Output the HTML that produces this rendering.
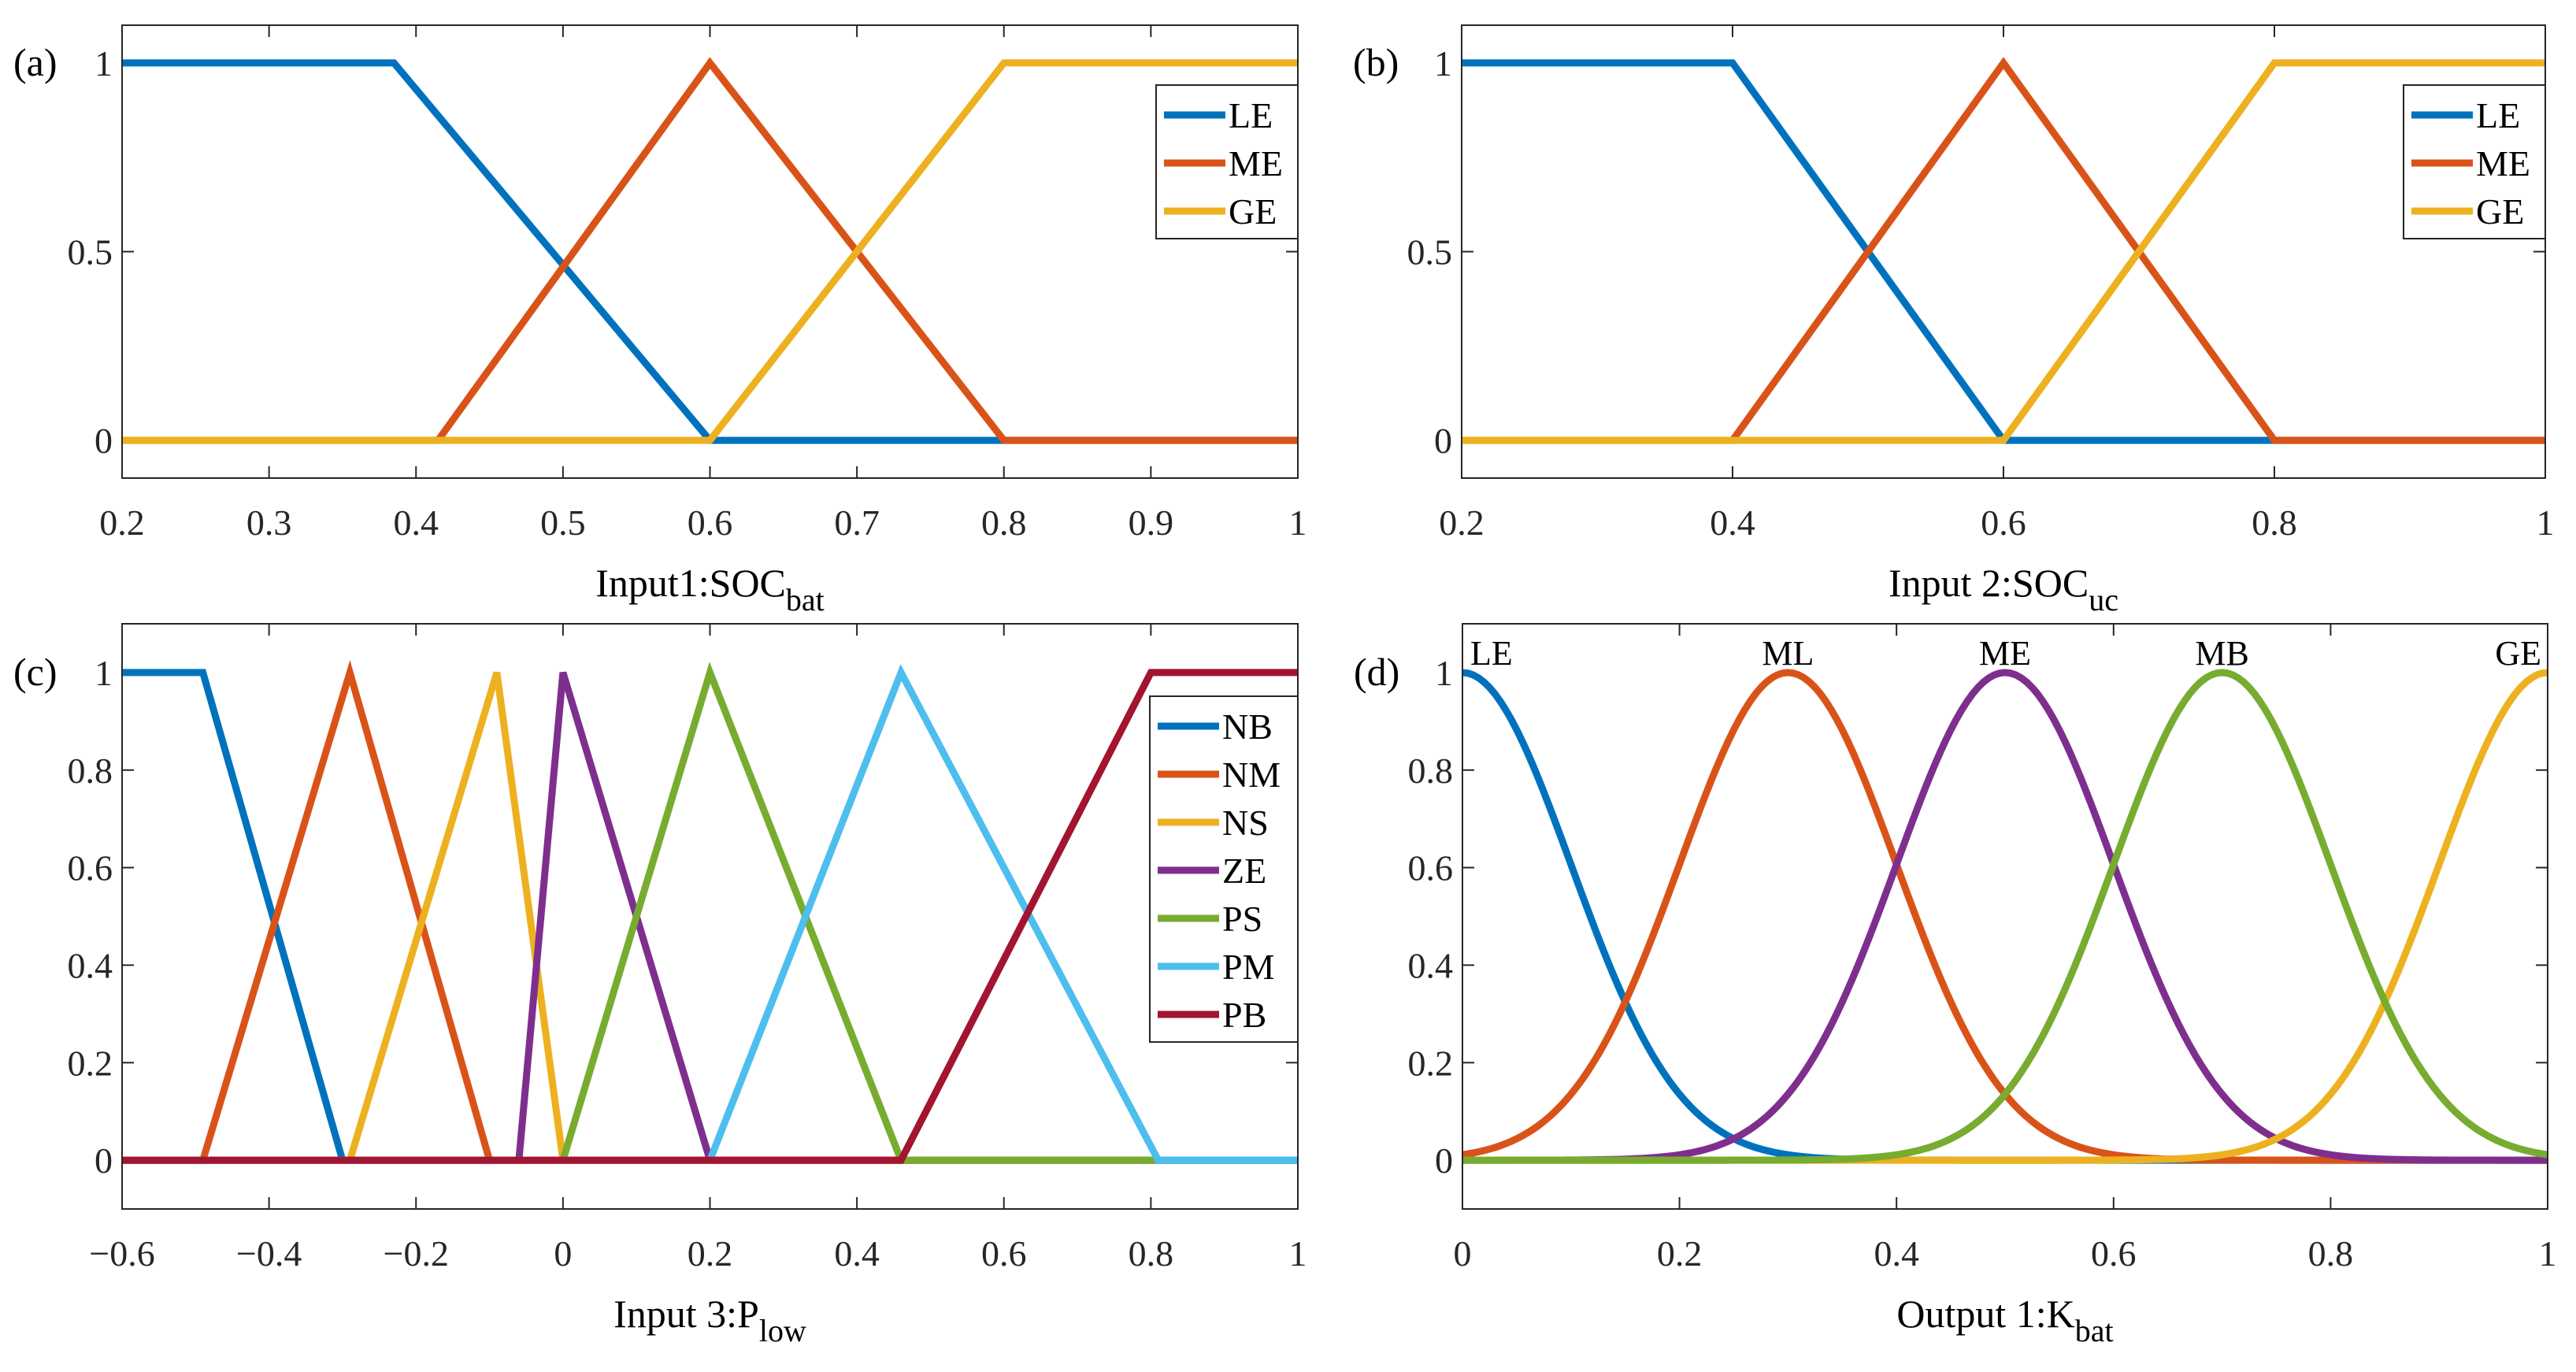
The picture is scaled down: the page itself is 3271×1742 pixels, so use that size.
<!DOCTYPE html>
<html><head><meta charset="utf-8"><style>
html,body{margin:0;padding:0;background:#fff;}
svg{display:block;font-family:"Liberation Serif",serif;}
</style></head><body>
<svg id="c" width="3271" height="1742" viewBox="0 0 3271 1742"></svg>
<script>
const NS="http://www.w3.org/2000/svg";
const svg=document.getElementById('c');
// Panel data
const aNames=["LE","ME","GE"];
const aX=[[0.2,0.385,0.6,1],[0.2,0.415,0.6,0.8,1],[0.2,0.6,0.8,1]];
const aY=[[1,1,0,0],[0,0,1,0,0],[0,0,1,1]];
const bNames=["LE","ME","GE"];
const bX=[[0.2,0.4,0.6,1],[0.2,0.4,0.6,0.8,1],[0.2,0.6,0.8,1]];
const bY=[[1,1,0,0],[0,0,1,0,0],[0,0,1,1]];
const cNames=["NB","NM","NS","ZE","PS","PM","PB"];
const cX=[[-0.6,-0.49,-0.3,1],[-0.6,-0.49,-0.29,-0.1,1],[-0.6,-0.29,-0.09,0,1],[-0.6,-0.06,0,0.2,1],[-0.6,0,0.2,0.46,1],[-0.6,0.2,0.46,0.81,1],[-0.6,0.46,0.8,1]];
const cY=[[1,1,0,0],[0,0,1,0,0],[0,0,1,0,0],[0,0,1,0,0],[0,0,1,0,0],[0,0,1,0,0],[0,0,1,1]];
const dNames=["LE","ML","ME","MB","GE"];
const dCenters=[0,0.3,0.5,0.7,1];
const dSigmas=[0.1,0.1,0.1,0.1,0.1];
const dDrawOrder=[0,1,2,4,3];
const colors3=["#0072BD","#D95319","#EDB120"];
const colors7=["#0072BD","#D95319","#EDB120","#7E2F8E","#77AC30","#4DBEEE","#A2142F"];
const colorsD=["#0072BD","#D95319","#7E2F8E","#77AC30","#EDB120"];

function el(tag,attrs,parent){const e=document.createElementNS(NS,tag);for(const k in attrs)e.setAttribute(k,attrs[k]);(parent||svg).appendChild(e);return e;}

function panel(o){
  const g=el('g',{});
  
  
  const sx=v=>o.L+(v-o.xmin)/(o.xmax-o.xmin)*(o.R-o.L);
  const sy=v=>o.B-(v-(-0.1))/(1.2)*(o.B-o.T);
  o.xt.forEach((t,i)=>{
    const x=sx(t);
    el('line',{x1:x,y1:o.B,x2:x,y2:o.B-15,stroke:'#262626','stroke-width':2},g);
    el('line',{x1:x,y1:o.T,x2:x,y2:o.T+15,stroke:'#262626','stroke-width':2},g);
    const tx=el('text',{x:x,y:o.B+72,'font-size':46,'text-anchor':'middle',fill:'#262626'},g);
    tx.textContent=o.xl[i];
    
    
  });
  o.yt.forEach((t,i)=>{
    const y=sy(t);
    el('line',{x1:o.L,y1:y,x2:o.L+15,y2:y,stroke:'#262626','stroke-width':2},g);
    el('line',{x1:o.R,y1:y,x2:o.R-15,y2:y,stroke:'#262626','stroke-width':2},g);
    const tx=el('text',{x:o.L-12,y:y+16,'font-size':46,'text-anchor':'end',fill:'#262626'},g);
    tx.textContent=o.yl[i];
    
    
  });
  const order=o.order||o.series.map((s,i)=>i);
  order.forEach(i=>{
    const s=o.series[i];
    const p=el('polyline',{points:s.xs.map((x,j)=>sx(x)+','+sy(s.ys[j])).join(' '),fill:'none',stroke:s.color,'stroke-width':9,'stroke-linejoin':'miter'},g);
    
    
  });
  el('rect',{x:o.L,y:o.T,width:o.R-o.L,height:o.B-o.T,fill:'none',stroke:'#262626','stroke-width':2},g);
  const pl=el('text',{x:o.L-138,y:sy(1)+16,'font-size':50,fill:'#000'},g);
  pl.textContent=o.letter;
  
  
  const xl=el('text',{x:(o.L+o.R)/2,y:o.B+150,'font-size':50,'text-anchor':'middle',fill:'#000'},g);
  
  
  const t1=el('tspan',{},xl);t1.textContent=o.xlab;
  const t2=el('tspan',{dy:18,'font-size':40},xl);t2.textContent=o.xsub;
  if(o.legend){
    const lg=el('g',{},g);
    
    
    const lx=o.legend.x,ly=o.legend.y,lw=o.legend.w,rowH=61;
    const h=o.series.length*rowH+12;
    el('rect',{x:lx,y:ly,width:lw,height:h,fill:'#fff',stroke:'#262626','stroke-width':2},lg);
    o.series.forEach((s,i)=>{
      const yy=ly+38+i*rowH;
      const e=el('g',{},lg);
      
      
      el('line',{x1:lx+10,y1:yy,x2:lx+88,y2:yy,stroke:s.color,'stroke-width':9},e);
      const t=el('text',{x:lx+92,y:yy+16,'font-size':46,fill:'#000'},e);t.textContent=s.name;
    });
  }
  if(o.peakLabels){
    o.series.forEach((s,i)=>{
      const c=dCenters[i];
      let anchor='middle',x=sx(c);
      if(i===0){anchor='start';x=sx(c)+10;}
      if(i===o.series.length-1){anchor='end';x=sx(c)-8;}
      const t=el('text',{x:x,y:o.T+52,'font-size':44,'text-anchor':anchor,fill:'#000'},g);
      t.textContent=s.name;
      
      
    });
  }
}
const mk=(names,X,Y,cols)=>names.map((n,i)=>({name:n,xs:X[i],ys:Y[i],color:cols[i]}));
panel({name:'panel-a',letter:'(a)',L:155,R:1648,T:32,B:607,xmin:0.2,xmax:1,
  xt:[0.2,0.3,0.4,0.5,0.6,0.7,0.8,0.9,1],xl:['0.2','0.3','0.4','0.5','0.6','0.7','0.8','0.9','1'],
  yt:[0,0.5,1],yl:['0','0.5','1'],series:mk(aNames,aX,aY,colors3),xlab:'Input1:SOC',xsub:'bat',
  legend:{x:1468,y:108,w:180}});
panel({name:'panel-b',letter:'(b)',L:1856,R:3232,T:32,B:607,xmin:0.2,xmax:1,
  xt:[0.2,0.4,0.6,0.8,1],xl:['0.2','0.4','0.6','0.8','1'],
  yt:[0,0.5,1],yl:['0','0.5','1'],series:mk(bNames,bX,bY,colors3),xlab:'Input 2:SOC',xsub:'uc',
  legend:{x:3052,y:108,w:180}});
panel({name:'panel-c',letter:'(c)',L:155,R:1648,T:792,B:1535,xmin:-0.6,xmax:1,
  xt:[-0.6,-0.4,-0.2,0,0.2,0.4,0.6,0.8,1],xl:['\u22120.6','\u22120.4','\u22120.2','0','0.2','0.4','0.6','0.8','1'],
  yt:[0,0.2,0.4,0.6,0.8,1],yl:['0','0.2','0.4','0.6','0.8','1'],series:mk(cNames,cX,cY,colors7),xlab:'Input 3:P',xsub:'low',
  legend:{x:1460,y:884,w:188}});
const dX=[],dY=[];
for(let i=0;i<dNames.length;i++){const xs=[],ys=[];for(let k=0;k<=200;k++){const x=k/200;xs.push(x);ys.push(Math.exp(-Math.pow(x-dCenters[i],2)/(2*dSigmas[i]*dSigmas[i])));}dX.push(xs);dY.push(ys);}
panel({name:'panel-d',letter:'(d)',L:1857,R:3235,T:792,B:1535,xmin:0,xmax:1,
  xt:[0,0.2,0.4,0.6,0.8,1],xl:['0','0.2','0.4','0.6','0.8','1'],
  yt:[0,0.2,0.4,0.6,0.8,1],yl:['0','0.2','0.4','0.6','0.8','1'],series:mk(dNames,dX,dY,colorsD),xlab:'Output 1:K',xsub:'bat',
  peakLabels:true,order:dDrawOrder});
</script>
</body></html>
